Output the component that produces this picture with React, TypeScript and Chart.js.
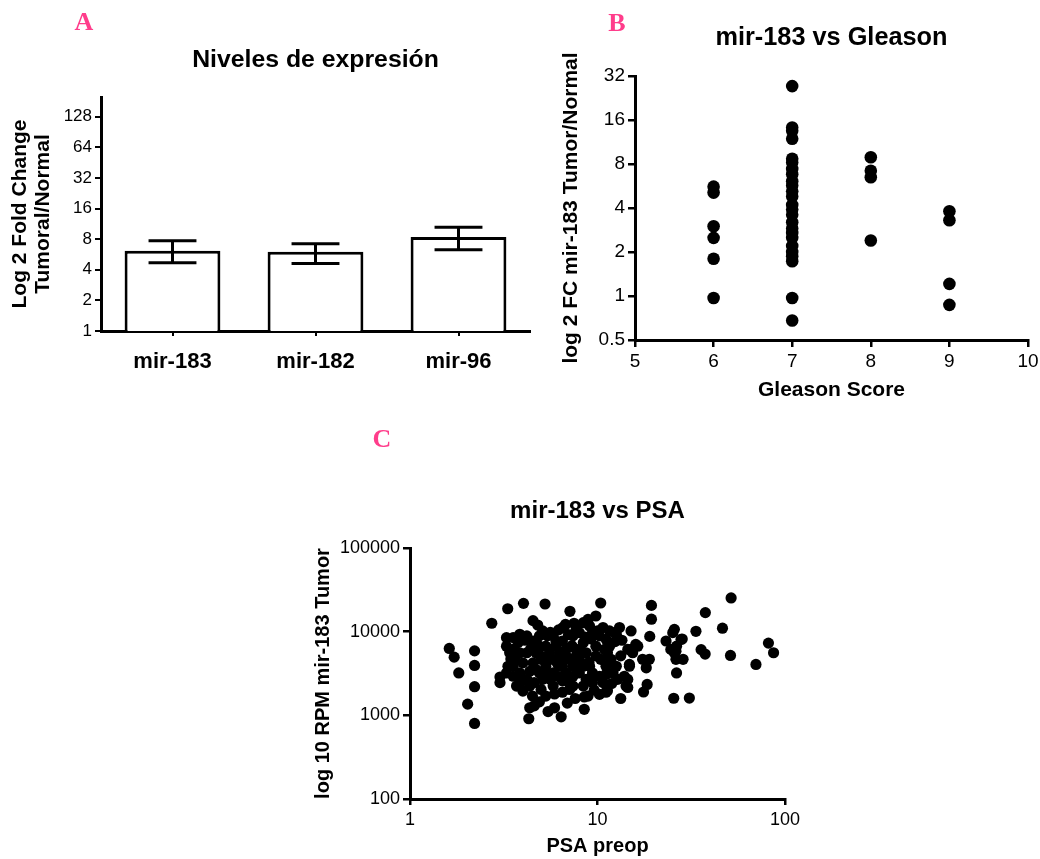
import { useEffect, useRef } from "react";
import { Chart, registerables } from "chart.js";

Chart.register(...registerables);

const SANS = "'Liberation Sans', Arial, Helvetica, sans-serif";
const SERIF = "'Liberation Serif', 'Times New Roman', serif";
const INK = "#000000";
const PANEL_LABEL = "#ff3d8b";

// A: expression levels (fold change tumour / normal, mean with error range)
const mirnaNames = ["mir-183", "mir-182", "mir-96"];
const foldChangeMean = [6.15, 6.0, 8.4];
const foldChangeLower = [4.7, 4.6, 6.3];
const foldChangeUpper = [7.7, 7.2, 10.5];
const foldChangeTicks = [1, 2, 4, 8, 16, 32, 64, 128];
const foldChangeMax = 200;

// B: mir-183 fold change by Gleason score
const gleasonTicks = [5, 6, 7, 8, 9, 10];
const fcTicks = [0.5, 1, 2, 4, 8, 16, 32];
const fcGleason6 = [5.6, 5.1, 3.0, 2.5, 1.8, 0.97];
const fcGleason7 = [
  27.3, 14.2, 13.5, 11.9, 8.7, 8.2, 7.4, 6.8, 6.1, 5.7, 5.2, 4.8, 4.2, 3.9, 3.6,
  3.2, 2.9, 2.7, 2.5, 2.2, 2.0, 1.87, 1.73, 0.97, 0.68,
];
const fcGleason8 = [8.9, 7.2, 6.5, 2.4];
const fcGleason9 = [3.8, 3.3, 1.21, 0.87];

// C: mir-183 reads per million vs preoperative PSA  [PSA, RPM]
const psaTicks = [1, 10, 100];
const rpmTicks = [100, 1000, 10000, 100000];
const psaRpmPairs: [number, number][] = [
  [1.62, 6300], [1.72, 4960], [1.82, 3210], [2.03, 1360], [2.21, 5900], [2.21, 3950],
  [2.21, 2200], [2.21, 800], [2.73, 12600], [3.02, 2870], [3.02, 2460], [3.32, 18800],
  [4.03, 21800], [5.25, 21400], [4.53, 13550], [7.13, 17500], [10.4, 22000], [19.4, 20600],
  [19.4, 14100], [19.0, 8780], [51.6, 25300], [37.6, 16900], [46.4, 11000], [33.5, 10100],
  [35.7, 6100], [37.5, 5400], [51.2, 5200], [70, 4060], [81.6, 7300], [86.9, 5600],
  [25.5, 1600], [30.9, 1610], [26.4, 3210], [23.2, 7730], [25.2, 9730], [26.4, 6700],
  [28.3, 8160], [28.6, 4670], [26.2, 4670], [24.6, 6140], [25.7, 5600], [25.7, 10660],
  [27.9, 8090], [26.2, 5850], [15.1, 10200], [16.4, 6700], [15.1, 6140], [17.4, 4670],
  [18.9, 4670], [18.2, 3700], [14.8, 3860], [14.5, 2690], [14.5, 2150], [18.4, 2340],
  [17.6, 1900], [13.1, 11200], [12.6, 9290], [13.3, 5140], [14.5, 6140], [15.4, 5600],
  [12.6, 3860], [12.8, 2690], [13.9, 2930], [13.3, 1590], [11.3, 1970], [11.6, 6700],
  [3.27, 8480], [3.55, 8480], [3.85, 9300], [4.2, 8900], [3.55, 6140], [4.53, 7730],
  [5.1, 10200], [5.4, 8900], [6.0, 7730], [6.54, 11200], [6.75, 12200], [7.7, 10660],
  [8.6, 8600], [8.9, 14000], [9.8, 15400], [10.7, 11200], [10.7, 2460], [9.4, 2460],
  [8.5, 1660], [8.5, 1180], [7.6, 1590], [7.4, 2240], [6.4, 960], [5.9, 1230],
  [5.45, 1110], [5.3, 1700], [5.9, 1800], [6.5, 1890], [4.3, 910], [4.35, 1230],
  [4.6, 1300], [4.5, 1700], [4.35, 2240], [4.0, 1950], [3.7, 2240], [3.55, 2930],
  [3.55, 3860], [3.62, 4670], [3.4, 5600], [3.85, 5600], [4.2, 5600], [4.53, 4240],
  [4.9, 3210], [4.35, 3350], [4.6, 2460], [5.0, 2040], [5.3, 3860], [5.55, 5600],
  [5.8, 3210], [6.28, 3860], [6.28, 5600], [6.0, 6700], [6.8, 6140], [7.1, 4670],
  [6.8, 3210], [6.5, 2580], [7.4, 2930], [8.0, 3210], [8.0, 4670], [7.7, 6140],
  [8.4, 7390], [8.7, 5600], [9.07, 3860], [9.4, 3210], [9.8, 5140], [9.8, 6700],
  [10.25, 8900], [11.1, 8090], [11.3, 5600], [11.1, 3860], [10.25, 2930], [12.1, 3210],
  [11.8, 4670], [4.9, 6700], [4.9, 8900], [5.55, 4670], [5.1, 2690], [5.8, 2240],
  [7.1, 2040], [8.4, 2240], [7.4, 8900], [8.0, 9730], [9.07, 11700], [9.4, 9730],
  [4.2, 2690], [3.85, 3210], [4.0, 4240], [3.27, 3210], [3.33, 3860], [3.27, 6700],
  [3.77, 7390], [4.7, 5600], [5.3, 6700], [5.8, 4670], [6.5, 3860], [5.3, 3210],
  [4.7, 3540], [5.0, 4670], [8.4, 3860], [8.7, 2690], [7.4, 3860], [7.7, 5140],
  [6.8, 5140], [6.5, 7730], [5.8, 8900], [10.4, 4670], [10.9, 6140], [5.6, 9800],
  [6.2, 10500], [7.0, 9200], [6.1, 4200], [5.0, 5100], [4.4, 6200], [7.3, 6800],
  [8.2, 5900], [9.2, 8200], [10.0, 10200], [9.0, 4300], [7.8, 4100], [6.6, 4700],
  [5.6, 2700], [6.2, 2900], [7.0, 2500], [9.6, 2000], [8.9, 1700], [3.9, 2500],
  [4.9, 1450], [6.9, 1400], [11.9, 2400], [12.3, 9700], [11.6, 10200], [12.4, 7600],
  [3.45, 4700], [4.1, 7900], [4.8, 12000], [7.5, 12600], [8.4, 12800], [16.0, 7050],
  [14.8, 4060], [11.1, 3080], [14.2, 2240], [11.1, 1890], [10.25, 1780], [13.5, 7900],
];

const font = (size: number, weight: string = "normal", lineHeight = 1.2) => ({
  family: SANS,
  size,
  weight,
  lineHeight,
});

// Replace the generated ticks with a fixed list of values.
const fixedTicks = (values: number[]) => (scale: any) => {
  scale.ticks = values.map((value) => ({ value }));
};

// Pin an axis box to a given size and keep its labels from pushing the plot area around.
const pinBox = (size: { width?: number; height?: number }) => (scale: any) => {
  if (size.width !== undefined) scale.width = size.width;
  if (size.height !== undefined) scale.height = size.height;
  scale.paddingLeft = 0;
  scale.paddingRight = 0;
  scale.paddingTop = 0;
  scale.paddingBottom = 0;
};

const plainLabel = (value: any) => String(value);

const axisStyle = (tickLength: number, tickWidth: number) => ({
  border: { display: true, color: INK, width: 3 },
  grid: {
    display: true,
    drawOnChartArea: false,
    drawTicks: true,
    tickLength,
    color: INK,
    lineWidth: tickWidth,
  },
});

const errorBarPlugin = {
  id: "meanErrorBars",
  afterDatasetsDraw(chart: any) {
    const { ctx } = chart;
    const yScale = chart.scales.y;
    const meta = chart.getDatasetMeta(0);
    ctx.save();
    ctx.strokeStyle = INK;
    ctx.lineWidth = 3;
    ctx.lineCap = "butt";
    meta.data.forEach((bar: any, i: number) => {
      const x = bar.x;
      const top = yScale.getPixelForValue(foldChangeUpper[i]);
      const bottom = yScale.getPixelForValue(foldChangeLower[i]);
      const half = bar.width / 4;
      ctx.beginPath();
      ctx.moveTo(x, top);
      ctx.lineTo(x, bottom);
      ctx.moveTo(x - half, top);
      ctx.lineTo(x + half, top);
      ctx.moveTo(x - half, bottom);
      ctx.lineTo(x + half, bottom);
      ctx.stroke();
    });
    ctx.restore();
  },
};

// Title block sized so its text is centred on centerY and the plot starts at areaTop.
const commonPlugins = (
  title: string,
  size: number,
  centerY: number,
  areaTop: number,
  layoutTop: number
) => {
  const lineHeight = size * 1.2;
  const top = centerY - layoutTop - lineHeight / 2;
  const bottom = areaTop - layoutTop - top - lineHeight;
  return {
    legend: { display: false },
    tooltip: { enabled: false },
    title: {
      display: true,
      text: title,
      color: INK,
      font: font(size, "bold"),
      padding: { top, bottom },
      fullSize: false,
    },
  };
};

function expressionConfig(): any {
  return {
    type: "bar",
    data: {
      labels: mirnaNames,
      datasets: [
        {
          data: foldChangeMean,
          backgroundColor: "#ffffff",
          borderColor: INK,
          borderWidth: 3,
          borderSkipped: "start",
          barPercentage: 0.67,
          categoryPercentage: 1,
        },
      ],
    },
    options: {
      responsive: false,
      animation: false,
      events: [],
      layout: { padding: { left: 0, top: 30, right: 510, bottom: 468 } },
      plugins: commonPlugins("Niveles de expresión", 24.8, 60, 97, 30),
      scales: {
        x: {
          type: "category",
          offset: true,
          ...axisStyle(5, 2),
          grid: { ...axisStyle(5, 2).grid, offset: false },
          ticks: { color: INK, font: font(22, "bold"), padding: 12.8, autoSkip: false, maxRotation: 0 },
          afterFit: pinBox({ height: 60 }),
        },
        y: {
          type: "logarithmic",
          min: 1,
          max: foldChangeMax,
          ...axisStyle(6, 2),
          ticks: { color: INK, font: font(17), padding: 3, autoSkip: false, callback: plainLabel },
          afterBuildTicks: fixedTicks(foldChangeTicks),
          afterFit: pinBox({ width: 101 }),
          title: {
            display: true,
            text: ["Log 2 Fold Change", "Tumoral/Normal"],
            color: INK,
            font: font(21, "bold", 23 / 21),
            padding: { top: 8.5, bottom: 0 },
          },
        },
      },
    },
    plugins: [errorBarPlugin],
  };
}

function gleasonConfig(): any {
  const points = [
    ...fcGleason6.map((y) => ({ x: 6, y })),
    ...fcGleason7.map((y) => ({ x: 7, y })),
    ...fcGleason8.map((y) => ({ x: 8, y })),
    ...fcGleason9.map((y) => ({ x: 9, y })),
  ];
  return {
    type: "scatter",
    data: {
      datasets: [
        {
          data: points,
          backgroundColor: INK,
          borderColor: INK,
          pointRadius: 6.3,
          pointBorderWidth: 0,
          pointHoverRadius: 6.3,
        },
      ],
    },
    options: {
      responsive: false,
      animation: false,
      events: [],
      layout: { padding: { left: 540, top: 10, right: 12, bottom: 449 } },
      plugins: commonPlugins("mir-183 vs Gleason", 25.3, 38, 76, 10),
      scales: {
        x: {
          type: "linear",
          min: 5,
          max: 10,
          ...axisStyle(7, 2.5),
          ticks: { color: INK, font: font(19), padding: 3.3, stepSize: 1, autoSkip: false, callback: plainLabel },
          afterBuildTicks: fixedTicks(gleasonTicks),
          afterFit: pinBox({ height: 70 }),
          title: {
            display: true,
            text: "Gleason Score",
            color: INK,
            font: font(21, "bold"),
            padding: { top: 0, bottom: 7.4 },
          },
        },
        y: {
          type: "logarithmic",
          min: 0.5,
          max: 32,
          ...axisStyle(7, 2.5),
          ticks: { color: INK, font: font(19), padding: 3, autoSkip: false, callback: plainLabel },
          afterBuildTicks: fixedTicks(fcTicks),
          afterFit: pinBox({ width: 95 }),
          title: {
            display: true,
            text: "log 2 FC mir-183 Tumor/Normal",
            color: INK,
            font: font(21, "bold"),
            padding: { top: 19.1, bottom: 0 },
          },
        },
      },
    },
  };
}

function psaConfig(): any {
  return {
    type: "scatter",
    data: {
      datasets: [
        {
          data: psaRpmPairs.map(([x, y]) => ({ x, y })),
          backgroundColor: INK,
          borderColor: INK,
          pointRadius: 5.6,
          pointBorderWidth: 0,
          pointHoverRadius: 5.6,
        },
      ],
    },
    options: {
      responsive: false,
      animation: false,
      events: [],
      layout: { padding: { left: 290, top: 470, right: 255, bottom: 0 } },
      plugins: commonPlugins("mir-183 vs PSA", 24, 511.7, 548, 470),
      scales: {
        x: {
          type: "logarithmic",
          min: 1,
          max: 100,
          ...axisStyle(6, 2.5),
          ticks: { color: INK, font: font(18), padding: 4, autoSkip: false, callback: plainLabel },
          afterBuildTicks: fixedTicks(psaTicks),
          afterFit: pinBox({ height: 60 }),
          title: {
            display: true,
            text: "PSA preop",
            color: INK,
            font: font(20, "bold"),
            padding: { top: 0, bottom: 0.3 },
          },
        },
        y: {
          type: "logarithmic",
          min: 100,
          max: 100000,
          ...axisStyle(7, 2.5),
          ticks: { color: INK, font: font(18), padding: 3, autoSkip: false, callback: plainLabel },
          afterBuildTicks: fixedTicks(rpmTicks),
          afterFit: pinBox({ width: 120 }),
          title: {
            display: true,
            text: "log 10 RPM mir-183 Tumor",
            color: INK,
            font: font(20, "bold"),
            padding: { top: 21, bottom: 0 },
          },
        },
      },
    },
  };
}

const canvasStyle: any = {
  position: "absolute",
  left: 0,
  top: 0,
  width: 1040,
  height: 859,
  pointerEvents: "none",
};

const panelLabel = (cx: number, cy: number): any => ({
  position: "absolute",
  left: cx,
  top: cy,
  transform: "translate(-50%, -50%)",
  fontFamily: SERIF,
  fontWeight: "bold",
  fontSize: 26,
  lineHeight: "26px",
  color: PANEL_LABEL,
});

export default function App() {
  const expressionRef = useRef<HTMLCanvasElement>(null);
  const gleasonRef = useRef<HTMLCanvasElement>(null);
  const psaRef = useRef<HTMLCanvasElement>(null);

  useEffect(() => {
    const charts = [
      new Chart(expressionRef.current as HTMLCanvasElement, expressionConfig()),
      new Chart(gleasonRef.current as HTMLCanvasElement, gleasonConfig()),
      new Chart(psaRef.current as HTMLCanvasElement, psaConfig()),
    ];
    return () => charts.forEach((c) => c.destroy());
  }, []);

  return (
    <div
      style={{
        position: "absolute",
        left: 0,
        top: 0,
        width: 1040,
        height: 859,
        background: "#ffffff",
        overflow: "hidden",
      }}
    >
      <canvas ref={expressionRef} width={1040} height={859} style={canvasStyle} />
      <canvas ref={gleasonRef} width={1040} height={859} style={canvasStyle} />
      <canvas ref={psaRef} width={1040} height={859} style={canvasStyle} />
      <div style={panelLabel(84, 22)}>A</div>
      <div style={panelLabel(617, 23)}>B</div>
      <div style={panelLabel(382, 439)}>C</div>
    </div>
  );
}
